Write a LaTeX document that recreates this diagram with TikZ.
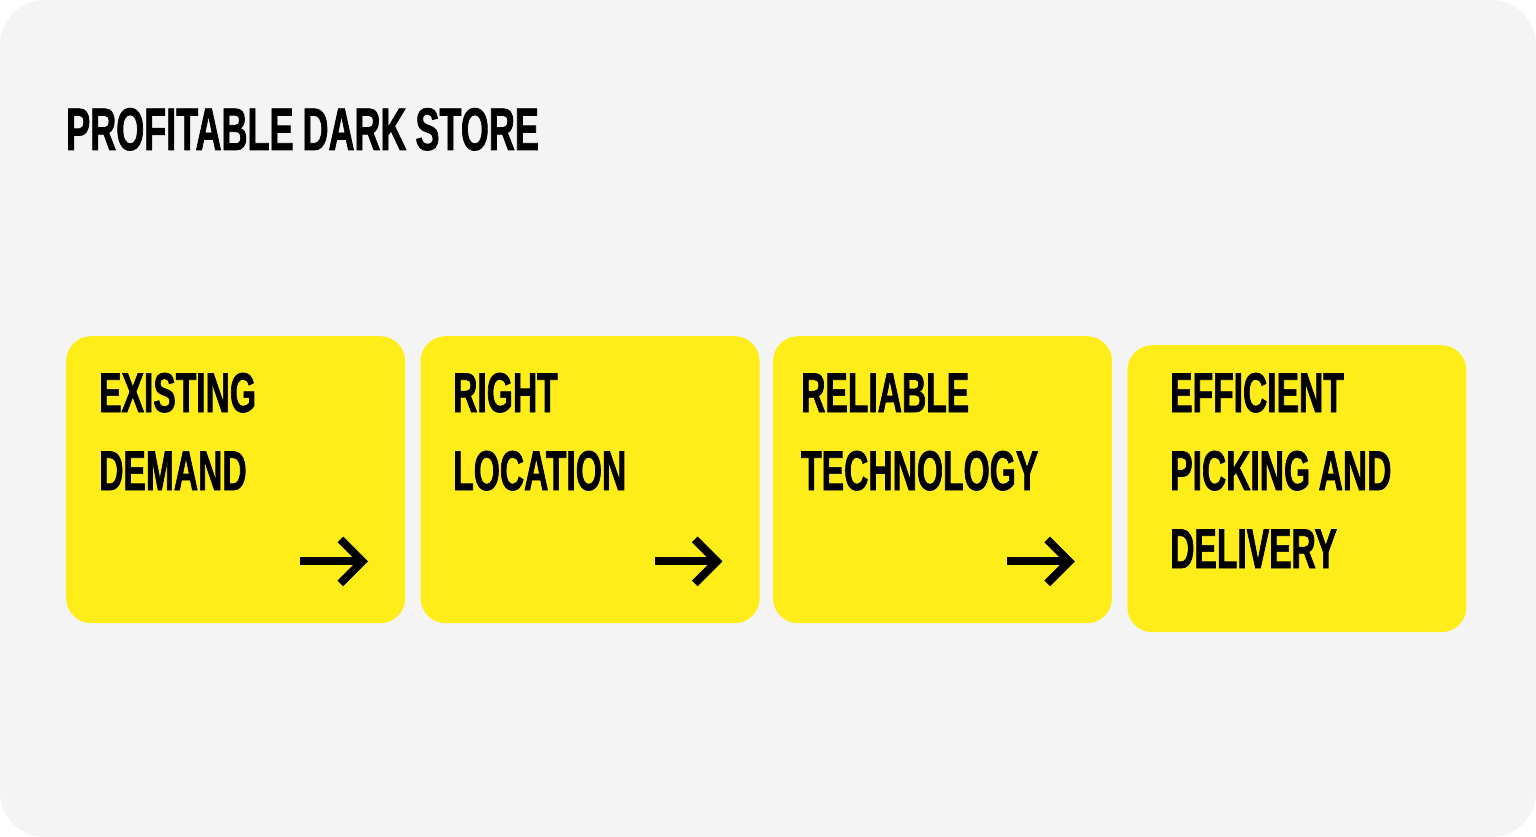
\documentclass[tikz,border=0pt]{standalone}
\usepackage{fontspec}
\usepackage{xcolor}
\usetikzlibrary{positioning,calc}
\newfontfamily\condfont{Liberation Sans}[FakeStretch=0.6, FakeBold=1.2]
\newfontfamily\titlefont{Liberation Sans}[FakeStretch=0.6, FakeBold=1.2, WordSpace=0.9]
\definecolor{paper}{HTML}{F4F4F4}
\definecolor{lemon}{HTML}{FFED1A}

\begin{document}
\begin{tikzpicture}[x=1pt,y=-1pt,
    stepbox/.style={rectangle, rounded corners=25pt, fill=lemon, minimum width=339pt, minimum height=287pt, inner sep=0pt},
    steptext/.style={anchor=base west, align=left, inner sep=0pt, font=\condfont\bfseries\fontsize{56}{78}\selectfont},
    nextarrow/.style={line width=8pt, miter limit=10}]

    \useasboundingbox (0,0) rectangle (1536,837);
    \fill[paper, rounded corners=45pt] (0,0) rectangle (1536,837);

    \node[anchor=base west, inner sep=0pt, font=\titlefont\bfseries\fontsize{60}{60}\selectfont] (title) at (66,150) {PROFITABLE DARK STORE};

    \node[stepbox, anchor=north west] (b1) at (66,336) {};
    \node[stepbox] (b2) [right=15pt of b1] {};
    \node[stepbox] (b3) [right=13pt of b2] {};
    \node[stepbox] (b4) [right=15pt of b3, yshift=-9pt] {};

    % base is the last line
    \node[steptext] (t1) at (99,490) {EXISTING\\DEMAND};
    \node[steptext] (t2) at (453,490) {RIGHT\\LOCATION};
    \node[steptext] (t3) at (801,490) {RELIABLE\\TECHNOLOGY};
    \node[steptext] (t4) at (1170,568) {EFFICIENT\\PICKING AND\\DELIVERY};

    \foreach \b in {b1,b2,b3}{
        \coordinate (tip) at ($(\b.south east)+(-43,-62)$);
        \draw[nextarrow] ($(tip)+(-62,0)$) -- (tip);
        \draw[nextarrow] ($(tip)+(-22,-22)$) -- (tip) -- ($(tip)+(-22,22)$);
    }
\end{tikzpicture}
\end{document}
